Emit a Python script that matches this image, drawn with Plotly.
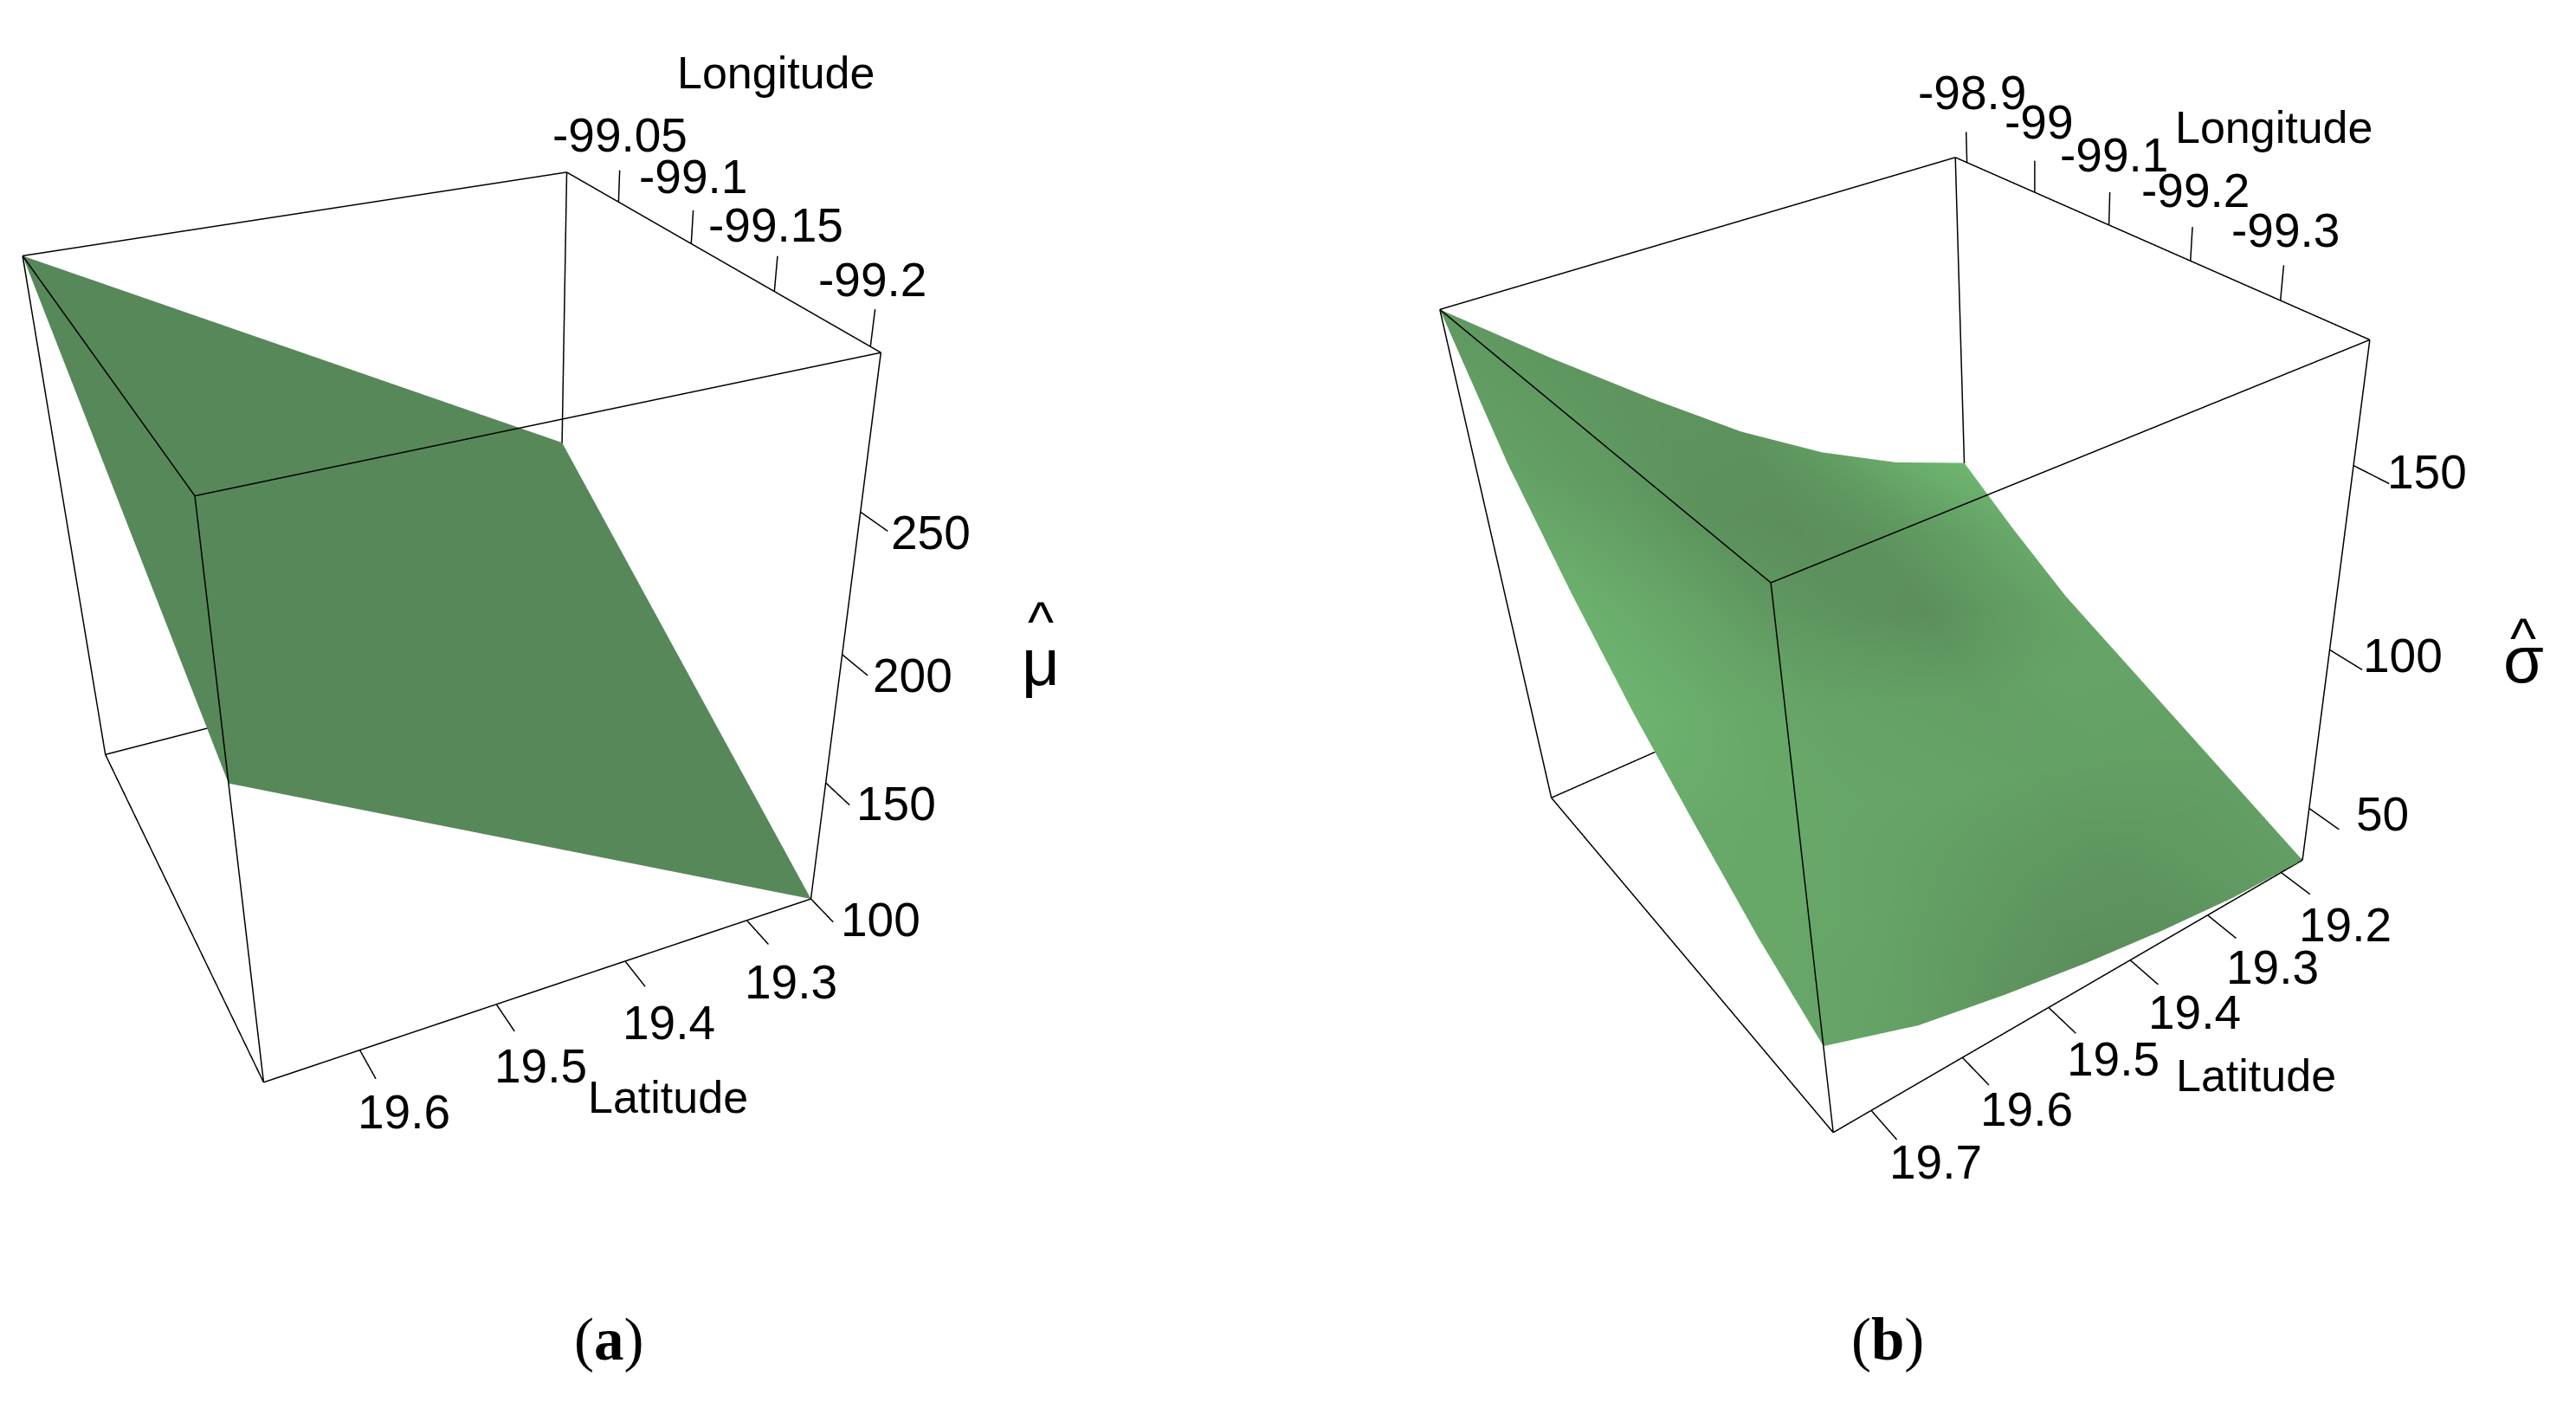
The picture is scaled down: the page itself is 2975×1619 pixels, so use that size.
import plotly.graph_objects as go

W, H = 2975, 1619

# panel a: estimated mean
lat_a = [19.245, 19.456, 19.667]
lon_a = [-99.205, -99.1075, -99.01]
mu_hat = [[100, 146, 192],
          [157, 202, 246],
          [214, 257, 300]]
lim_z_a = [100, 300]
lon_ticks_a = [-99.05, -99.1, -99.15, -99.2]
lat_ticks_a = [19.6, 19.5, 19.4, 19.3]
z_ticks_a = [250, 200, 150, 100]

# panel b: estimated sigma, rows go with latitude, columns with longitude
lat_b = [19.17, 19.265, 19.36, 19.455, 19.55, 19.645, 19.74]
lon_b = [-99.39, -99.305, -99.22, -99.135, -99.05, -98.965, -98.882]
sigma_hat = [[32, 40, 48, 56, 64, 75, 87],
             [33, 42, 51, 61, 71, 83, 96],
             [36, 45, 56, 67, 79, 92, 108],
             [40, 50, 62, 75, 89, 104, 123],
             [45, 57, 71, 85, 101, 119, 141],
             [51, 65, 80, 96, 114, 134, 160],
             [61, 74, 90, 107, 127, 150, 180]]
# shading, 0 is the dark green and 1 the light one
shade_b = [[.45, .45, .5, .55, .6, .7, 1.0],
           [.3, .35, .5, .55, .35, .4, .75],
           [.1, .25, .5, .45, .05, .15, .4],
           [.05, .3, .55, .5, .15, .05, .15],
           [.2, .45, .6, .55, .3, .1, .2],
           [.45, .6, .65, .7, .6, .35, .25],
           [.6, .65, .7, .95, .85, .5, .3]]
lim_z_b = [32, 180]
lon_ticks_b = [-98.9, -99, -99.1, -99.2, -99.3]
lat_ticks_b = [19.7, 19.6, 19.5, 19.4, 19.3, 19.2]
z_ticks_b = [150, 100, 50]

PAD = 0.3
TICK_FONT = dict(family="Liberation Sans", size=55, color="black")
TITLE_FONT = dict(family="Liberation Sans", size=52, color="black")
LINE = dict(color="black", width=3)


def lims(v):
    return [min(v), max(v)]


def padded(lim):
    d = (lim[1] - lim[0]) * PAD
    return [lim[0] - d, lim[1] + d]


def box_lines(xl, yl, zl):
    xs, ys, zs = [], [], []
    for y in yl:
        for z in zl:
            xs += [xl[0], xl[1], None]
            ys += [y, y, None]
            zs += [z, z, None]
    for x in xl:
        for z in zl:
            xs += [x, x, None]
            ys += [yl[0], yl[1], None]
            zs += [z, z, None]
    for x in xl:
        for y in yl:
            xs += [x, x, None]
            ys += [y, y, None]
            zs += [zl[0], zl[1], None]
    return go.Scatter3d(x=xs, y=ys, z=zs, mode="lines", hoverinfo="skip", line=LINE)


def tick_lines(xl, yl, zl, lon_t, lat_t, z_t):
    dx = (xl[1] - xl[0]) * 0.07
    dz = (zl[1] - zl[0]) * 0.055
    xs, ys, zs = [], [], []
    for t in lon_t:
        xs += [t, t, None]
        ys += [yl[0], yl[0], None]
        zs += [zl[1], zl[1] + dz, None]
    for t in lat_t:
        xs += [xl[0], xl[0] - dx, None]
        ys += [t, t, None]
        zs += [zl[0], zl[0], None]
    for t in z_t:
        xs += [xl[0], xl[0] - dx, None]
        ys += [yl[0], yl[0], None]
        zs += [t, t, None]
    return go.Scatter3d(x=xs, y=ys, z=zs, mode="lines", hoverinfo="skip", line=LINE)


def tick_labels(xl, yl, zl, lon_t, lat_t, z_t, lon_s, lat_s, z_s):
    out = []
    for t in lon_t:
        out.append(dict(x=t, y=yl[0], z=zl[1], text=str(t), showarrow=False,
                        font=TICK_FONT, xshift=lon_s[0], yshift=lon_s[1]))
    for t in lat_t:
        out.append(dict(x=xl[0], y=t, z=zl[0], text=str(t), showarrow=False,
                        font=TICK_FONT, xshift=lat_s[0], yshift=lat_s[1]))
    for t in z_t:
        out.append(dict(x=xl[0], y=yl[0], z=t, text=str(t), showarrow=False,
                        font=TICK_FONT, xshift=z_s[0], yshift=z_s[1]))
    return out


def scene_layout(domain, xl, yl, zl, anns, eye, center, up, box):
    hidden = dict(visible=False, showspikes=False)
    scale = 1 + 2 * PAD
    return dict(
        domain=dict(x=domain, y=[0, 1]),
        xaxis=dict(range=padded(xl), **hidden),
        yaxis=dict(range=padded(yl), **hidden),
        zaxis=dict(range=padded(zl), **hidden),
        aspectmode="manual",
        aspectratio=dict(x=box[0] * scale, y=box[1] * scale, z=box[2] * scale),
        camera=dict(eye=eye, center=center, up=up,
                    projection=dict(type="perspective")),
        annotations=anns,
        bgcolor="white",
    )


FLAT = dict(ambient=1, diffuse=0, specular=0, roughness=1, fresnel=0)

fig = go.Figure()

xl, yl = lims(lon_a), lims(lat_a)
fig.add_trace(go.Surface(x=lon_a, y=lat_a, z=mu_hat, surfacecolor=mu_hat, scene="scene",
                         colorscale=[[0, "#57885A"], [1, "#57885A"]], showscale=False,
                         lighting=FLAT, hoverinfo="skip"))
for tr in [box_lines(xl, yl, lim_z_a),
           tick_lines(xl, yl, lim_z_a, lon_ticks_a, lat_ticks_a, z_ticks_a)]:
    tr.scene = "scene"
    fig.add_trace(tr)
scene_a = scene_layout([0, 0.36], xl, yl, lim_z_a,
                       tick_labels(xl, yl, lim_z_a, lon_ticks_a, lat_ticks_a, z_ticks_a,
                                   (2, 77), (51, -71), (81, -24)),
                       dict(x=-2.2493, y=0.9321, z=1.3986),
                       dict(x=-0.1296, y=-0.0145, z=-0.1669),
                       dict(x=0.5034, y=-0.2437, z=0.829),
                       (0.9429, 0.9814, 0.9837))

xl, yl = lims(lon_b), lims(lat_b)
fig.add_trace(go.Surface(x=lon_b, y=lat_b, z=sigma_hat, surfacecolor=shade_b, scene="scene2",
                         cmin=0, cmax=1,
                         colorscale=[[0, "#5A8C5A"], [1, "#6EB670"]], showscale=False,
                         lighting=FLAT, hoverinfo="skip"))
for tr in [box_lines(xl, yl, lim_z_b),
           tick_lines(xl, yl, lim_z_b, lon_ticks_b, lat_ticks_b, z_ticks_b)]:
    tr.scene = "scene2"
    fig.add_trace(tr)
scene_b = scene_layout([0.534, 0.94], xl, yl, lim_z_b,
                       tick_labels(xl, yl, lim_z_b, lon_ticks_b, lat_ticks_b, z_ticks_b,
                                   (6, 81), (75, -60), (85, -7)),
                       dict(x=-1.958, y=1.2642, z=1.5615),
                       dict(x=-0.0888, y=0.0572, z=-0.1383),
                       dict(x=0.4772, y=-0.3781, z=0.7933),
                       (0.9872, 0.9878, 0.9916))


def note(x, y, text, font):
    return dict(x=x / W, y=1 - y / H, xref="paper", yref="paper", text=text,
                showarrow=False, font=font, xanchor="center", yanchor="middle")


SERIF = dict(family="Liberation Serif", size=69, color="black")
HAT = dict(family="Liberation Sans", size=64, color="black")
GREEK = dict(family="Liberation Sans", size=76, color="black")

notes = [
    note(888, 76, "Longitude", TITLE_FONT),
    note(763, 1259, "Latitude", TITLE_FONT),
    note(2618, 139, "Longitude", TITLE_FONT),
    note(2597, 1234, "Latitude", TITLE_FONT),
    note(1194, 710, "^", HAT),
    note(1194, 756, "μ", GREEK),
    note(2906, 729, "^", HAT),
    note(2906, 753, "σ", GREEK),
    note(695, 1539, "(<b>a</b>)", SERIF),
    note(2172, 1539, "(<b>b</b>)", SERIF),
]

fig.update_layout(
    width=W, height=H,
    margin=dict(l=0, r=0, t=0, b=0),
    paper_bgcolor="white",
    showlegend=False,
    scene=scene_a,
    scene2=scene_b,
    annotations=notes,
)

fig.write_html("out.html")
